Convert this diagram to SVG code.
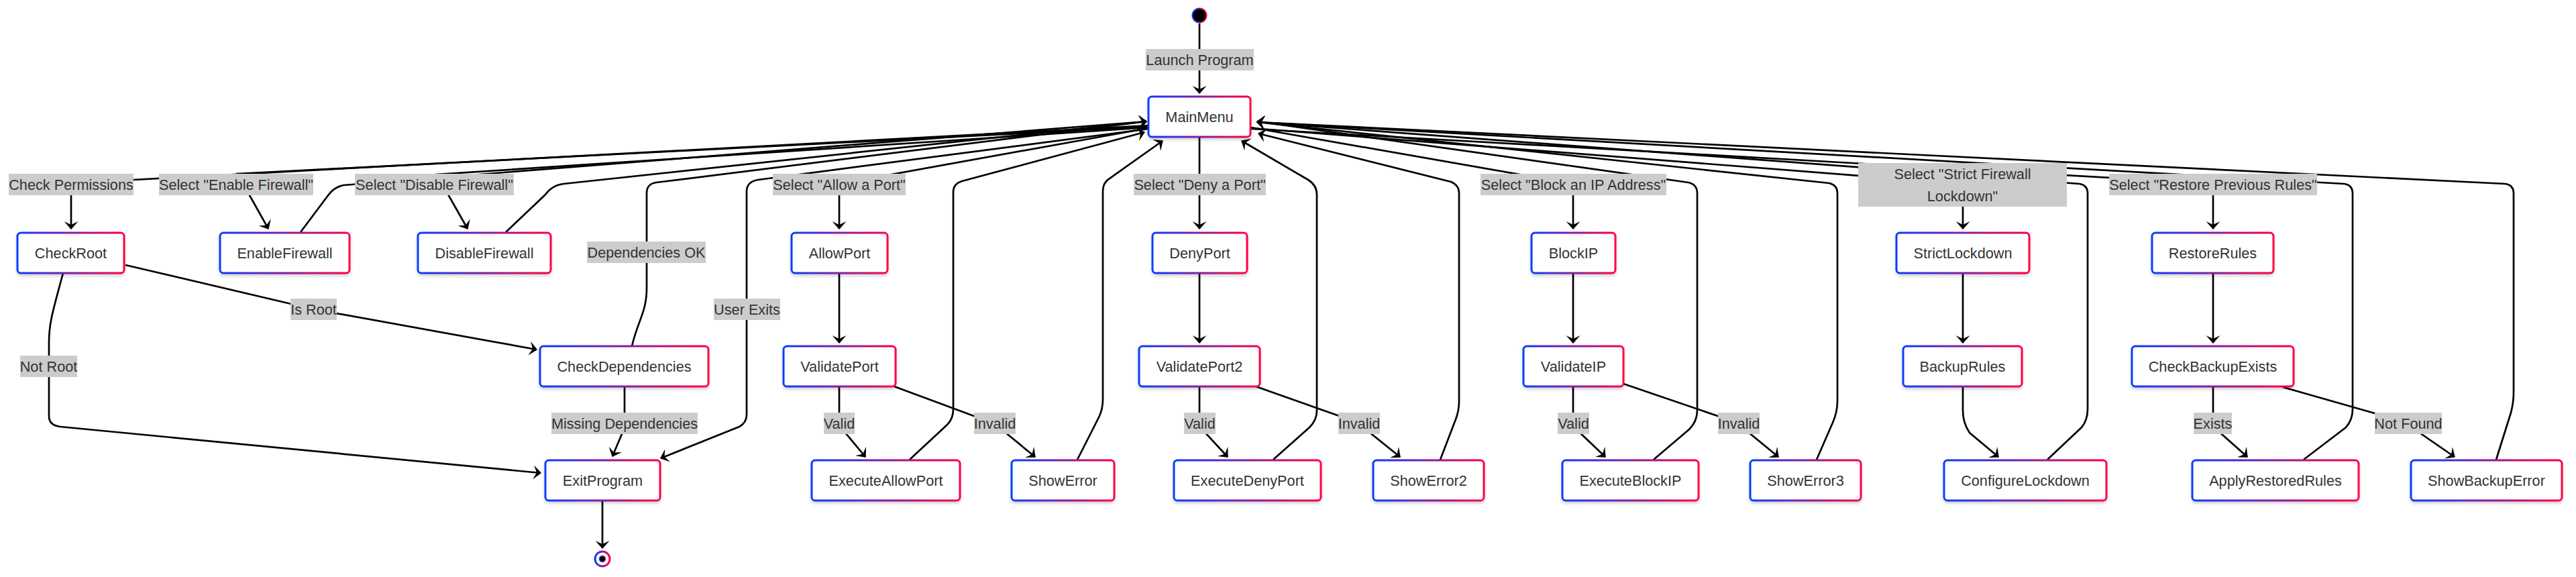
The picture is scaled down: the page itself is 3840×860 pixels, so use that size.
<svg xmlns="http://www.w3.org/2000/svg" width="3840" height="860" viewBox="0 0 3840 860">
<defs>
<linearGradient id="g" x1="0" y1="0" x2="1" y2="0"><stop offset="0" stop-color="#0a3cff"/><stop offset="1" stop-color="#ff0044"/></linearGradient>
<filter id="sh" x="-10%" y="-10%" width="120%" height="140%"><feDropShadow dx="0" dy="3" stdDeviation="2" flood-color="#000" flood-opacity="0.18"/></filter>
<marker id="arr" viewBox="0 0 12 21" refX="11" refY="10.5" markerWidth="12" markerHeight="21" markerUnits="userSpaceOnUse" orient="auto"><path d="M12,10.5 L0,21 L5,10.5 L0,0 Z" fill="#000"/></marker>
<style>
.node rect{fill:#fff;stroke:url(#g);stroke-width:3;filter:url(#sh)}
.node text{font-family:"Liberation Sans",Arial,sans-serif;font-size:21.7px;fill:#333;text-anchor:middle}
.lbl rect{fill:#cccccc}
.lbl text{font-family:"Liberation Sans",Arial,sans-serif;font-size:21.7px;fill:#333;text-anchor:middle}
.e{fill:none;stroke:#000;stroke-width:2.7;marker-end:url(#arr)}
</style>
</defs>
<rect width="3840" height="860" fill="#fff"/>
<g id="connectors">
<path class="e" d="M1788,35 L1788,139"/>
<path class="e" d="M1712,187 L199,268 L118,270 Q106,270 106,282 L106,341"/>
<path class="e" d="M1712,189 L354,259 L400,341"/>
<path class="e" d="M448,346 L490,290 Q498,279 512,276 L1709,181"/>
<path class="e" d="M1712,190 L651,260 L697,341"/>
<path class="e" d="M754,346 L813,290 Q823,276 840,274 L1709,181"/>
<path class="e" d="M942,516 C950,480 964,465 964,430 L964,288 Q964,274 978,272 L1709,181"/>
<path class="e" d="M1712,192 L1130,268 Q1113,271 1113,285 L1113,618 Q1113,630 1102,636 L985,683"/>
<path class="e" d="M1712,191 L1262,272 Q1251,274 1251,285 L1251,341"/>
<path class="e" d="M1251,407 L1251,511"/>
<path class="e" d="M1251,577 L1251,625 Q1251,633 1256,640 L1290,681"/>
<path class="e" d="M1333,576 L1476,629 Q1490,634 1498,644 L1543,681"/>
<path class="e" d="M1356,685 L1412,633 Q1421,624 1421,610 L1421,286 Q1421,274 1434,270 L1706,197"/>
<path class="e" d="M1606,685 L1638,622 Q1644,610 1644,595 L1644,285 Q1644,272 1654,266 L1733,210"/>
<path class="e" d="M1788,204 L1788,341"/>
<path class="e" d="M1788,407 L1788,511"/>
<path class="e" d="M1788,577 L1788,625 Q1788,633 1792,640 L1830,681"/>
<path class="e" d="M1872,576 L2019,628 Q2033,634 2041,644 L2087,681"/>
<path class="e" d="M1898,685 L1952,637 Q1963,626 1963,612 L1963,290 Q1963,276 1950,268 L1851,210"/>
<path class="e" d="M2147,685 L2170,625 Q2175,612 2175,598 L2175,288 Q2175,276 2163,271 L1876,199"/>
<path class="e" d="M1865,190 L2334,272 Q2345,274 2345,285 L2345,341"/>
<path class="e" d="M2345,407 L2345,511"/>
<path class="e" d="M2345,577 L2345,625 Q2345,633 2350,640 L2393,681"/>
<path class="e" d="M2420,572 L2584,628 Q2598,633 2606,644 L2651,681"/>
<path class="e" d="M2465,685 L2518,640 Q2530,628 2530,612 L2530,288 Q2530,275 2517,272 L1874,181"/>
<path class="e" d="M2708,685 L2732,630 Q2739,614 2739,598 L2739,288 Q2739,276 2727,273 L1874,182"/>
<path class="e" d="M1865,191 L2914,273 Q2926,274 2926,285 L2926,341"/>
<path class="e" d="M2926,407 L2926,511"/>
<path class="e" d="M2926,577 L2926,612 Q2926,630 2936,645 L2979,681"/>
<path class="e" d="M3052,685 L3103,637 Q3112,626 3112,610 L3112,288 Q3112,276 3100,274 L1874,182"/>
<path class="e" d="M1865,192 L3288,273 Q3299,274 3299,285 L3299,341"/>
<path class="e" d="M3299,407 L3299,511"/>
<path class="e" d="M3299,577 L3299,625 Q3299,633 3304,640 L3350,681"/>
<path class="e" d="M3403,577 L3582,628 Q3596,633 3604,643 L3659,681"/>
<path class="e" d="M3434,685 L3497,637 Q3507,626 3507,610 L3507,288 Q3507,276 3495,274 L1874,182"/>
<path class="e" d="M3721,685 L3743,615 Q3747,600 3747,585 L3747,288 Q3747,276 3735,274 L1874,182"/>
<path class="e" d="M187,395 L468,461 L800,521"/>
<path class="e" d="M94,407 C80,460 73,480 73,510 L73,620 Q73,634 90,636 L806,705"/>
<path class="e" d="M931,577 L931,625 Q931,635 929,642 L913,680"/>
<path class="e" d="M898,746 L898,817"/>
</g>
<g id="edge-labels">
<g class="lbl"><rect x="1708" y="73" width="161" height="32"/><text x="1788.5" y="96.5">Launch Program</text></g>
<g class="lbl"><rect x="13" y="259" width="186" height="32"/><text x="106" y="282.5">Check Permissions</text></g>
<g class="lbl"><rect x="237" y="259" width="230" height="32"/><text x="352" y="282.5">Select "Enable Firewall"</text></g>
<g class="lbl"><rect x="529" y="259" width="237" height="32"/><text x="647.5" y="282.5">Select "Disable Firewall"</text></g>
<g class="lbl"><rect x="875" y="360" width="177" height="32"/><text x="963.5" y="383.5">Dependencies OK</text></g>
<g class="lbl"><rect x="433" y="445" width="69" height="32"/><text x="467.5" y="468.5">Is Root</text></g>
<g class="lbl"><rect x="30" y="530" width="85" height="32"/><text x="72.5" y="553.5">Not Root</text></g>
<g class="lbl"><rect x="1064" y="445" width="99" height="32"/><text x="1113.5" y="468.5">User Exits</text></g>
<g class="lbl"><rect x="822" y="615" width="218" height="32"/><text x="931" y="638.5">Missing Dependencies</text></g>
<g class="lbl"><rect x="1152" y="259" width="198" height="32"/><text x="1251" y="282.5">Select "Allow a Port"</text></g>
<g class="lbl"><rect x="1228" y="615" width="46" height="32"/><text x="1251" y="638.5">Valid</text></g>
<g class="lbl"><rect x="1452" y="615" width="62" height="32"/><text x="1483" y="638.5">Invalid</text></g>
<g class="lbl"><rect x="1690" y="259" width="197" height="32"/><text x="1788.5" y="282.5">Select "Deny a Port"</text></g>
<g class="lbl"><rect x="1765" y="615" width="47" height="32"/><text x="1788.5" y="638.5">Valid</text></g>
<g class="lbl"><rect x="1995" y="615" width="62" height="32"/><text x="2026" y="638.5">Invalid</text></g>
<g class="lbl"><rect x="2207" y="259" width="277" height="32"/><text x="2345.5" y="282.5">Select "Block an IP Address"</text></g>
<g class="lbl"><rect x="2322" y="615" width="47" height="32"/><text x="2345.5" y="638.5">Valid</text></g>
<g class="lbl"><rect x="2561" y="615" width="62" height="32"/><text x="2592" y="638.5">Invalid</text></g>
<g class="lbl"><rect x="2770" y="243" width="311" height="65"/><text x="2925.5" y="266.5">Select "Strict Firewall</text><text x="2925.5" y="299.5">Lockdown"</text></g>
<g class="lbl"><rect x="3144" y="259" width="310" height="32"/><text x="3299" y="282.5">Select "Restore Previous Rules"</text></g>
<g class="lbl"><rect x="3270" y="615" width="57" height="32"/><text x="3298.5" y="638.5">Exists</text></g>
<g class="lbl"><rect x="3540" y="615" width="100" height="32"/><text x="3590" y="638.5">Not Found</text></g>
</g>
<g id="start"><circle cx="1788" cy="23" r="10.5" fill="#000" stroke="url(#g)" stroke-width="2"/></g>
<g id="end"><circle cx="898" cy="833" r="11" fill="#fff" stroke="url(#g)" stroke-width="3"/><circle cx="898" cy="833" r="4.5" fill="#000" stroke="url(#g)" stroke-width="1.5"/></g>
<g id="MainMenu" class="node"><rect x="1712" y="144" width="152" height="60" rx="5"/><text x="1788" y="181.5">MainMenu</text></g>
<g id="CheckRoot" class="node"><rect x="26" y="347" width="159" height="60" rx="5"/><text x="105.5" y="384.5">CheckRoot</text></g>
<g id="EnableFirewall" class="node"><rect x="328" y="347" width="193" height="60" rx="5"/><text x="424.5" y="384.5">EnableFirewall</text></g>
<g id="DisableFirewall" class="node"><rect x="623" y="347" width="198" height="60" rx="5"/><text x="722" y="384.5">DisableFirewall</text></g>
<g id="AllowPort" class="node"><rect x="1180" y="347" width="143" height="60" rx="5"/><text x="1251.5" y="384.5">AllowPort</text></g>
<g id="DenyPort" class="node"><rect x="1718" y="347" width="141" height="60" rx="5"/><text x="1788.5" y="384.5">DenyPort</text></g>
<g id="BlockIP" class="node"><rect x="2283" y="347" width="125" height="60" rx="5"/><text x="2345.5" y="384.5">BlockIP</text></g>
<g id="StrictLockdown" class="node"><rect x="2827" y="347" width="198" height="60" rx="5"/><text x="2926" y="384.5">StrictLockdown</text></g>
<g id="RestoreRules" class="node"><rect x="3208" y="347" width="181" height="60" rx="5"/><text x="3298.5" y="384.5">RestoreRules</text></g>
<g id="CheckDependencies" class="node"><rect x="805" y="516" width="251" height="60" rx="5"/><text x="930.5" y="553.5">CheckDependencies</text></g>
<g id="ValidatePort" class="node"><rect x="1168" y="516" width="167" height="60" rx="5"/><text x="1251.5" y="553.5">ValidatePort</text></g>
<g id="ValidatePort2" class="node"><rect x="1698" y="516" width="180" height="60" rx="5"/><text x="1788" y="553.5">ValidatePort2</text></g>
<g id="ValidateIP" class="node"><rect x="2271" y="516" width="149" height="60" rx="5"/><text x="2345.5" y="553.5">ValidateIP</text></g>
<g id="BackupRules" class="node"><rect x="2837" y="516" width="177" height="60" rx="5"/><text x="2925.5" y="553.5">BackupRules</text></g>
<g id="CheckBackupExists" class="node"><rect x="3178" y="516" width="241" height="60" rx="5"/><text x="3298.5" y="553.5">CheckBackupExists</text></g>
<g id="ExitProgram" class="node"><rect x="813" y="686" width="171" height="60" rx="5"/><text x="898.5" y="723.5">ExitProgram</text></g>
<g id="ExecuteAllowPort" class="node"><rect x="1210" y="686" width="221" height="60" rx="5"/><text x="1320.5" y="723.5">ExecuteAllowPort</text></g>
<g id="ShowError" class="node"><rect x="1508" y="686" width="153" height="60" rx="5"/><text x="1584.5" y="723.5">ShowError</text></g>
<g id="ExecuteDenyPort" class="node"><rect x="1750" y="686" width="219" height="60" rx="5"/><text x="1859.5" y="723.5">ExecuteDenyPort</text></g>
<g id="ShowError2" class="node"><rect x="2047" y="686" width="165" height="60" rx="5"/><text x="2129.5" y="723.5">ShowError2</text></g>
<g id="ExecuteBlockIP" class="node"><rect x="2329" y="686" width="203" height="60" rx="5"/><text x="2430.5" y="723.5">ExecuteBlockIP</text></g>
<g id="ShowError3" class="node"><rect x="2609" y="686" width="165" height="60" rx="5"/><text x="2691.5" y="723.5">ShowError3</text></g>
<g id="ConfigureLockdown" class="node"><rect x="2898" y="686" width="242" height="60" rx="5"/><text x="3019" y="723.5">ConfigureLockdown</text></g>
<g id="ApplyRestoredRules" class="node"><rect x="3268" y="686" width="248" height="60" rx="5"/><text x="3392" y="723.5">ApplyRestoredRules</text></g>
<g id="ShowBackupError" class="node"><rect x="3594" y="686" width="225" height="60" rx="5"/><text x="3706.5" y="723.5">ShowBackupError</text></g>
</svg>
